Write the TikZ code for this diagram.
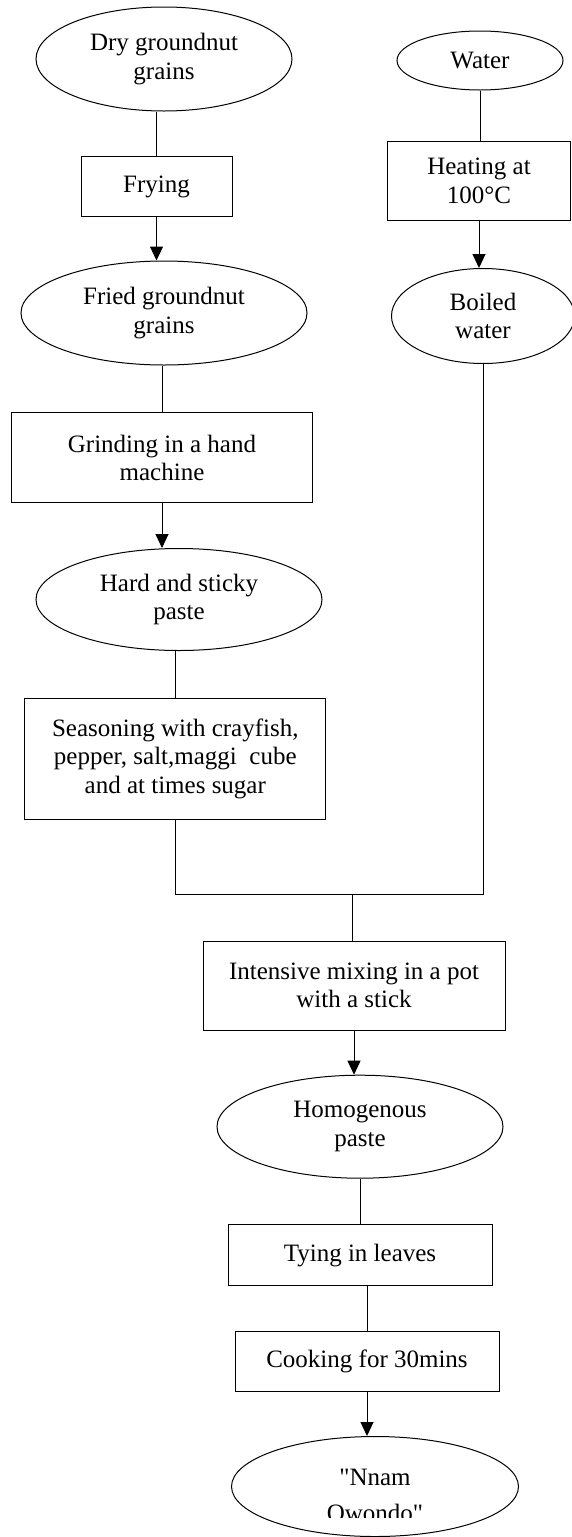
\documentclass[tikz,border=0pt]{standalone}
\usepackage{fontspec}
\setmainfont{Liberation Serif}
\newfontfamily\plainquotes{Liberation Serif}[Ligatures=TeXOff]
\usepackage{tikz}
\usetikzlibrary{arrows.meta,shapes,positioning}
\tikzstyle{blob} = [ellipse, draw, line width=1pt, inner sep=0pt, align=center]
\tikzstyle{stepbox} = [rectangle, draw, line width=1pt, inner sep=0pt, align=center]
\tikzstyle{link} = [line width=1pt]
\tikzstyle{arrow} = [line width=1pt, -{Triangle[length=14pt,width=13pt]}]

\begin{document}
\begin{tikzpicture}[x=1pt, y=-1pt, font=\fontsize{25}{28.5}\selectfont]
\useasboundingbox[fill=white] (0,0) rectangle (572,1537);

% Groundnut column
\node[blob, minimum width=256pt, minimum height=104pt] (dry) at (164,59) {Dry groundnut\\grains};
\node[stepbox, minimum width=151pt, minimum height=60pt] (frying) at (156.5,186.7) {Frying};
\node[blob, minimum width=286pt, minimum height=104pt] (fried) at (164,313) {Fried groundnut\\grains};
\node[stepbox, minimum width=301pt, minimum height=90pt] (grinding) at (162,457.7) {Grinding in a hand\\machine};
\node[blob, minimum width=286pt, minimum height=102pt] (hard) at (179,599.5) {Hard and sticky\\paste};
\node[stepbox, minimum width=301pt, minimum height=121pt] (seasoning) at (175.3,758.7) {Seasoning with crayfish,\\pepper, salt,maggi\ \ cube\\and at times sugar};

% Water column
\node[blob, minimum width=166pt, minimum height=59pt] (water) at (480,60.5) {Water};
\node[stepbox, minimum width=183pt, minimum height=79pt] (heating) at (479,181) {Heating at\\100°C};
\node[blob, minimum width=183pt, minimum height=95pt] (boiled) at (483,316) {Boiled\\water};

% Common steps
\node[stepbox, minimum width=302pt, minimum height=89pt] (intensive) at (354,985.5) {Intensive mixing in a pot\\with a stick};
\node[blob, minimum width=286pt, minimum height=103pt] (homog) at (360,1126.7) {Homogenous\\paste};
\node[stepbox, minimum width=264pt, minimum height=61pt] (tying) at (360,1255.3) {Tying in leaves};
\node[stepbox, minimum width=264pt, minimum height=60pt] (cooking) at (367,1361) {Cooking for 30mins};
\node[blob, minimum width=287pt, minimum height=100pt] (nnam) at (375,1486.5) {};
\begin{scope}
\clip (220,1440) rectangle (530,1517.3);
\node[align=center, inner sep=0pt, anchor=base, font=\fontsize{25}{28.5}\plainquotes] (nnamtext) at (375,1521) {"Nnam\\[7.5pt]Owondo"};
\end{scope}

% Connectors
\draw[link] (dry.south -| frying) -- (frying.north);
\draw[arrow] (frying.south) -- (frying.south |- fried.north);
\draw[link] (fried.south -| grinding) -- (grinding.north);
\draw[arrow] (grinding.south) -- (grinding.south |- hard.north);
\draw[link] (hard.south -| seasoning) -- (seasoning.north);
\draw[link] (water.south) -- (water.south |- heating.north);
\draw[arrow] (heating.south) -- (heating.south |- boiled.north);

% Joining the two columns
\coordinate (mix) at (352,894);
\draw[link] (seasoning.south) |- (mix);
\draw[link] (boiled.south) |- (mix);
\draw[link] (mix) -- (mix |- intensive.north);
\draw[arrow] (intensive.south) -- (intensive.south |- homog.north);
\draw[link] (homog.south -| tying) -- (tying.north);
\draw[link] (tying.south -| cooking) -- (cooking.north);
\draw[arrow] (cooking.south) -- (cooking.south |- nnam.north);
\end{tikzpicture}
\end{document}
